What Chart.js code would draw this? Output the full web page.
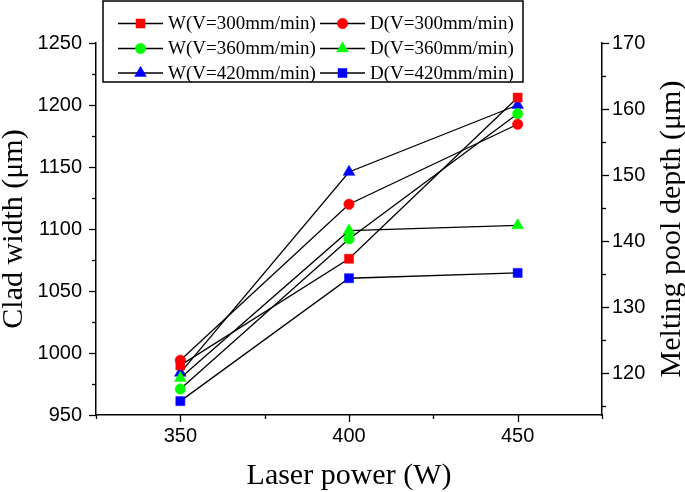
<!DOCTYPE html>
<html><head><meta charset="utf-8">
<script src="https://cdn.jsdelivr.net/npm/chart.js@4/dist/chart.umd.min.js"></script>
<style>html,body{margin:0;padding:0;background:#fff;} #wrap{width:685px;height:492px;position:relative}</style>
</head><body><div id="wrap"><canvas id="c" width="685" height="492"></canvas></div>
<script>
const laserPower = [350, 400, 450];
const seriesLabels = ['W(V=300mm/min)', 'D(V=300mm/min)', 'W(V=360mm/min)', 'D(V=360mm/min)', 'W(V=420mm/min)', 'D(V=420mm/min)'];
const widthV300 = [990, 1076, 1206];
const depthV300 = [122.0, 145.6, 157.7];
const widthV360 = [971, 1092, 1193];
const depthV360 = [119.3, 141.6, 142.4];
const widthV420 = [984, 1146, 1200];
const depthV420 = [115.8, 134.4, 135.2];
const xTicks = [350, 400, 450];
const xMinorTicks = [325, 375, 425, 475];
const widthTicks = [950, 1000, 1050, 1100, 1150, 1200, 1250];
const widthMinorTicks = [975, 1025, 1075, 1125, 1175, 1225];
const depthTicks = [120, 130, 140, 150, 160, 170];
const depthMinorTicks = [115, 125, 135, 145, 155, 165];

const RED = '#ff0000', GREEN = '#00ff00', BLUE = '#0000ff';
const SERIF = '"Liberation Serif", "Times New Roman", serif';
const SANS = '"Liberation Sans", Arial, sans-serif';

function pts(arr) { return laserPower.map((x, i) => ({x: x, y: arr[i]})); }
function ds(label, arr, color, style, r, axis) {
  return {
    label: label, data: pts(arr), yAxisID: axis,
    borderColor: '#000', borderWidth: 1.3,
    pointStyle: style, pointRadius: r, pointHoverRadius: r,
    pointBackgroundColor: color, pointBorderColor: color, pointBorderWidth: 0.5,
    fill: false, tension: 0
  };
}

const datasets = [
  ds(seriesLabels[0], widthV300, RED, 'rect', 6.4, 'y'),
  ds(seriesLabels[1], depthV300, RED, 'circle', 5.2, 'y1'),
  ds(seriesLabels[2], widthV360, GREEN, 'circle', 5.2, 'y'),
  ds(seriesLabels[3], depthV360, GREEN, 'triangle', 6.8, 'y1'),
  ds(seriesLabels[4], widthV420, BLUE, 'triangle', 6.8, 'y'),
  ds(seriesLabels[5], depthV420, BLUE, 'rect', 6.4, 'y1')
];

function drawMarker(ctx, style, r, x, y, color) {
  ctx.save();
  ctx.fillStyle = color; ctx.strokeStyle = color; ctx.lineWidth = 0.5;
  if (window.Chart && Chart.helpers && Chart.helpers.drawPoint) {
    Chart.helpers.drawPoint(ctx, {pointStyle: style, radius: r, rotation: 0, borderWidth: 0.5}, x, y);
  } else {
    ctx.beginPath();
    if (style === 'rect') { const s = r * Math.SQRT1_2; ctx.rect(x - s, y - s, 2 * s, 2 * s); }
    else if (style === 'circle') { ctx.arc(x, y, r, 0, Math.PI * 2); }
    else { ctx.moveTo(x, y - r); ctx.lineTo(x + r * 0.866, y + r / 2); ctx.lineTo(x - r * 0.866, y + r / 2); ctx.closePath(); }
    ctx.fill(); ctx.stroke();
  }
  ctx.restore();
}

const decor = {
  id: 'decor',
  afterDraw(chart) {
    const {ctx, chartArea: a, scales} = chart;
    ctx.save();
    ctx.strokeStyle = '#000'; ctx.lineWidth = 1.3;
    const mark = (scale, vals, len) => {
      vals.forEach(v => {
        const p = Math.round(scale.getPixelForValue(v)) + 0.5;
        ctx.beginPath();
        if (scale.axis === 'x') { ctx.moveTo(p, a.bottom); ctx.lineTo(p, a.bottom + len); }
        else if (scale.position === 'left') { ctx.moveTo(a.left, p); ctx.lineTo(a.left - len, p); }
        else { ctx.moveTo(a.right, p); ctx.lineTo(a.right + len, p); }
        ctx.stroke();
      });
    };
    mark(scales.x, xTicks, 7); mark(scales.x, xMinorTicks, 4);
    mark(scales.y, widthTicks, 7); mark(scales.y, widthMinorTicks, 4);
    mark(scales.y1, depthTicks, 7); mark(scales.y1, depthMinorTicks, 4);

    // right axis title (reads bottom to top)
    ctx.save();
    ctx.translate(672, (a.top + a.bottom) / 2);
    ctx.rotate(-Math.PI / 2);
    ctx.fillStyle = '#000'; ctx.textAlign = 'center'; ctx.textBaseline = 'middle';
    ctx.font = '30px ' + SERIF;
    ctx.fillText('Melting pool depth (μm)', 0, 0);
    ctx.restore();

    // legend
    const bx = 103, by = 1, bw = 420, bh = 81;
    ctx.fillStyle = '#fff'; ctx.fillRect(bx, by, bw, bh);
    ctx.lineWidth = 1.5; ctx.strokeStyle = '#000'; ctx.strokeRect(bx, by, bw, bh);
    const rows = [23.5, 48.5, 73];
    const cols = [{l0: 118, l1: 163, m: 140.5, t: 168}, {l0: 320, l1: 365, m: 342.5, t: 370}];
    ctx.font = '19px ' + SERIF; ctx.textBaseline = 'middle'; ctx.textAlign = 'left';
    chart.data.datasets.forEach((d, i) => {
      const c = cols[i % 2], y = rows[Math.floor(i / 2)];
      ctx.strokeStyle = '#000'; ctx.lineWidth = 1.3;
      ctx.beginPath(); ctx.moveTo(c.l0, y); ctx.lineTo(c.l1, y); ctx.stroke();
      drawMarker(ctx, d.pointStyle, d.pointRadius, c.m, y, d.pointBackgroundColor);
      ctx.fillStyle = '#000';
      ctx.fillText(d.label, c.t, y + 1);
    });
    ctx.restore();
  }
};

const tickFont = {family: SANS, size: 20};
const plain = v => String(v);
new Chart(document.getElementById('c'), {
  type: 'line',
  data: {datasets: datasets},
  options: {
    responsive: false, animation: false, devicePixelRatio: 1,
    layout: {padding: {top: 43, left: 0, right: 0, bottom: 0}},
    plugins: {legend: {display: false}, tooltip: {enabled: false}},
    scales: {
      x: {
        type: 'linear', position: 'bottom', min: 325, max: 475,
        afterBuildTicks: s => { s.ticks = xTicks.map(v => ({value: v})); },
        afterFit: s => { s.height = 77; },
        grid: {display: false, drawTicks: false},
        border: {display: true, color: '#000', width: 1.5},
        ticks: {font: tickFont, color: '#000', padding: 9, maxRotation: 0, autoSkip: false, callback: plain},
        title: {display: true, text: 'Laser power (W)', color: '#000', font: {family: SERIF, size: 30, lineHeight: 1}, padding: {top: 0, bottom: 1}}
      },
      y: {
        type: 'linear', position: 'left', min: 950, max: 1250,
        afterBuildTicks: s => { s.ticks = widthTicks.map(v => ({value: v})); },
        afterFit: s => { s.width = 96; },
        grid: {display: false, drawTicks: false},
        border: {display: true, color: '#000', width: 1.5},
        ticks: {font: tickFont, color: '#000', padding: 14, autoSkip: false, callback: plain},
        title: {display: true, text: 'Clad width (μm)', color: '#000', font: {family: SERIF, size: 30, lineHeight: 1}, padding: {top: -1, bottom: 0}}
      },
      y1: {
        type: 'linear', position: 'right', min: 113.7, max: 170,
        afterBuildTicks: s => { s.ticks = depthTicks.map(v => ({value: v})); },
        afterFit: s => { s.width = 83; },
        grid: {display: false, drawTicks: false},
        border: {display: true, color: '#000', width: 1.5},
        ticks: {font: tickFont, color: '#000', padding: 10, autoSkip: false, callback: plain},
        title: {display: false}
      }
    }
  },
  plugins: [decor]
});
</script>
</body></html>
